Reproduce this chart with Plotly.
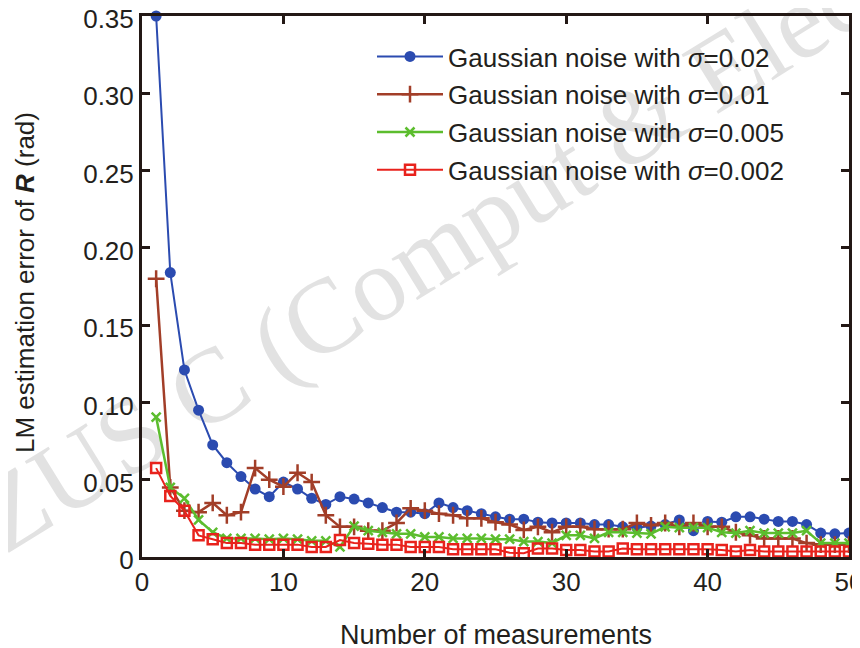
import plotly.graph_objects as go

x_vals = list(range(1, 51))

blue_002 = [0.350, 0.184, 0.121, 0.095, 0.0725, 0.061, 0.052, 0.044, 0.039, 0.0485,
            0.044, 0.038, 0.034, 0.039, 0.0375, 0.035, 0.032, 0.029, 0.029, 0.028,
            0.035, 0.032, 0.030, 0.028, 0.026, 0.0245, 0.0245, 0.0225, 0.022, 0.022,
            0.022, 0.021, 0.021, 0.0195, 0.019, 0.020, 0.021, 0.024, 0.017, 0.023,
            0.0225, 0.026, 0.026, 0.0245, 0.023, 0.023, 0.021, 0.0155, 0.015, 0.0155]

brown_001 = [0.180, 0.045, 0.030, 0.029, 0.035, 0.027, 0.029, 0.0575, 0.050, 0.0455,
             0.0545, 0.0485, 0.027, 0.0195, 0.0195, 0.017, 0.017, 0.022, 0.0315, 0.030,
             0.028, 0.027, 0.025, 0.025, 0.0225, 0.021, 0.0175, 0.0195, 0.016, 0.0195,
             0.0195, 0.018, 0.018, 0.018, 0.022, 0.0205, 0.022, 0.0195, 0.022, 0.0195,
             0.0195, 0.016, 0.014, 0.012, 0.012, 0.012, 0.009, 0.008, 0.008, 0.008]

green_0005 = [0.0905, 0.045, 0.038, 0.024, 0.016, 0.012, 0.012, 0.012, 0.0115, 0.012,
              0.0115, 0.0105, 0.0105, 0.0065, 0.020, 0.017, 0.016, 0.015, 0.015, 0.013,
              0.013, 0.012, 0.012, 0.012, 0.0115, 0.0115, 0.010, 0.010, 0.009, 0.014,
              0.014, 0.012, 0.016, 0.016, 0.0155, 0.015, 0.0195, 0.019, 0.019, 0.019,
              0.016, 0.0155, 0.017, 0.0155, 0.0155, 0.0155, 0.017, 0.009, 0.009, 0.009]

red_0002 = [0.0575, 0.0395, 0.030, 0.014, 0.0115, 0.009, 0.009, 0.008, 0.008, 0.008,
            0.008, 0.0065, 0.0065, 0.011, 0.009, 0.0085, 0.008, 0.008, 0.0065, 0.0065,
            0.0065, 0.005, 0.005, 0.005, 0.005, 0.0028, 0.0025, 0.0055, 0.0055, 0.0045,
            0.0045, 0.0035, 0.0035, 0.0055, 0.005, 0.005, 0.005, 0.005, 0.005, 0.005,
            0.0045, 0.0035, 0.0045, 0.0035, 0.0035, 0.0035, 0.0035, 0.0035, 0.0035, 0.0035]

legend_names = ["Gaussian noise with <i>σ</i>=0.02",
                "Gaussian noise with <i>σ</i>=0.01",
                "Gaussian noise with <i>σ</i>=0.005",
                "Gaussian noise with <i>σ</i>=0.002"]

x_ticks = [0, 10, 20, 30, 40, 50]
y_ticks = [0, 0.05, 0.10, 0.15, 0.20, 0.25, 0.30, 0.35]
y_ticktext = ["0", "0.05", "0.10", "0.15", "0.20", "0.25", "0.30", "0.35"]

FONT = "Liberation Sans, Arial, sans-serif"
TXT = "#231f1c"
AX = "#231815"

# page pixel -> paper coordinate helpers (plot area: x 142..849, y 16..557 on page)
def px(X):
    return (X - 142) / 707.0

def py(Y):
    return (557 - Y) / 541.0

fig = go.Figure()

styles = [
    (blue_002, "#2b4bb0", 2, dict(symbol="circle", size=11, color="#2b4bb0")),
    (brown_001, "#a23e28", 2.5, dict(symbol="cross-thin", size=12, color="#a23e28",
                                     line=dict(color="#a23e28", width=2.5))),
    (green_0005, "#5cbd2e", 2.5, dict(symbol="x-thin", size=9, color="#5cbd2e",
                                      line=dict(color="#5cbd2e", width=2.5))),
    (red_0002, "#e8221c", 2, dict(symbol="square-open", size=10, color="#e8221c",
                                  line=dict(color="#e8221c", width=2.5))),
]

for i, (ys, col, lw, mk) in enumerate(styles):
    fig.add_trace(go.Scatter(
        x=x_vals, y=ys, mode="lines+markers", name=legend_names[i],
        line=dict(color=col, width=lw), marker=mk, legendgroup=f"g{i}",
        cliponaxis=False,
    ))

# watermark drawn beneath the data, along an invisible line
fig.add_shape(
    type="line", xref="paper", yref="paper",
    x0=px(40), y0=py(550), x1=px(880), y1=py(30),
    line=dict(width=0, color="rgba(0,0,0,0)"), layer="below",
    label=dict(text="ZUS C (Comput & Elect", textposition="middle",
               font=dict(family="Liberation Serif, Times New Roman, serif", size=106,
                         color="#e2e2e2")),
)

# axis titles
fig.add_annotation(
    text="Number of measurements", xref="paper", yref="paper",
    x=0.5, y=py(635), xanchor="center", yanchor="middle",
    showarrow=False, font=dict(family=FONT, size=27, color=TXT),
)
fig.add_annotation(
    text="LM estimation error of <b><i>R</i></b> (rad)", xref="paper", yref="paper",
    x=px(25), y=py(283), xanchor="center", yanchor="middle",
    textangle=-90, showarrow=False, font=dict(family=FONT, size=26, color=TXT),
)

# the page has an 8px body margin: figure is 852x640 placed at (8, 8)
fig.update_layout(
    width=852, height=640,
    margin=dict(l=134, r=11, t=8, b=91, autoexpand=False),
    paper_bgcolor="white", plot_bgcolor="white",
    font=dict(family=FONT, size=26, color=TXT),
    showlegend=True,
    legend=dict(x=px(372), y=py(33), xanchor="left", yanchor="top",
                bgcolor="rgba(0,0,0,0)", borderwidth=0,
                font=dict(family=FONT, size=26, color=TXT),
                itemwidth=66, tracegroupgap=1),
    xaxis=dict(range=[0, 50], tickvals=x_ticks, ticks="inside", ticklen=8,
               tickwidth=2.5, tickcolor=AX, automargin=False,
               ticklabeloverflow="allow",
               showline=True, linecolor=AX, linewidth=3, mirror="ticks",
               showgrid=False, zeroline=False,
               tickfont=dict(size=26, color=TXT)),
    yaxis=dict(range=[0, 0.35], tickvals=y_ticks, ticktext=y_ticktext,
               ticks="inside", ticklen=8, tickwidth=2.5, tickcolor=AX, automargin=False,
               ticklabeloverflow="allow", ticklabelshift=3,
               showline=True, linecolor=AX, linewidth=3, mirror="ticks",
               showgrid=False, zeroline=False,
               tickfont=dict(size=26, color=TXT)),
)

fig.write_html("out.html")
